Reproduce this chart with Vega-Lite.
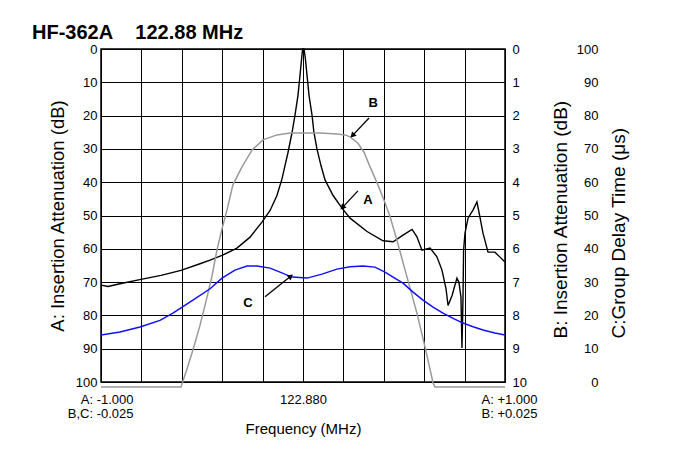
{
  "$schema": "https://vega.github.io/schema/vega-lite/v6.json",
  "width": 404,
  "height": 333,
  "autosize": "none",
  "padding": {"left": 101, "top": 49, "right": 177, "bottom": 68},
  "background": "white",
  "config": {
    "font": "Liberation Sans",
    "view": {"stroke": "black", "strokeWidth": 1.5},
    "axis": {"labelColor": "black", "titleColor": "black", "titleFontWeight": "normal", "labelFont": "Liberation Sans", "titleFont": "Liberation Sans"}
  },
  "title": {
    "text": "HF-362A\u00a0\u00a0\u00a0\u00a0122.88 MHz",
    "anchor": "start",
    "frame": "group",
    "dx": -69,
    "offset": -16,
    "baseline": "alphabetic",
    "fontSize": 20,
    "fontWeight": "bold",
    "font": "Liberation Sans",
    "color": "black"
  },
  "datasets": {
    "A": [
      {"f": -1.0, "db": 70.9}, {"f": -0.965, "db": 71.3}, {"f": -0.906, "db": 70.5}, {"f": -0.802, "db": 69.2},
      {"f": -0.703, "db": 68.0}, {"f": -0.604, "db": 66.5}, {"f": -0.51, "db": 64.5}, {"f": -0.46, "db": 63.4},
      {"f": -0.401, "db": 62.0}, {"f": -0.327, "db": 59.8}, {"f": -0.262, "db": 56.5}, {"f": -0.203, "db": 52.0},
      {"f": -0.163, "db": 48.5}, {"f": -0.129, "db": 44.0}, {"f": -0.104, "db": 39.0}, {"f": -0.074, "db": 31.0},
      {"f": -0.054, "db": 25.0}, {"f": -0.04, "db": 20.0}, {"f": -0.025, "db": 14.0}, {"f": -0.015, "db": 8.0},
      {"f": -0.007, "db": 3.0}, {"f": -0.002, "db": 0.0}, {"f": 0.005, "db": 0.0}, {"f": 0.012, "db": 3.0},
      {"f": 0.02, "db": 8.0}, {"f": 0.03, "db": 14.0}, {"f": 0.045, "db": 20.0}, {"f": 0.054, "db": 25.0},
      {"f": 0.069, "db": 30.0}, {"f": 0.089, "db": 35.0}, {"f": 0.109, "db": 39.3}, {"f": 0.149, "db": 44.0},
      {"f": 0.193, "db": 47.8}, {"f": 0.233, "db": 50.8}, {"f": 0.317, "db": 54.8}, {"f": 0.396, "db": 57.6},
      {"f": 0.446, "db": 57.9}, {"f": 0.495, "db": 55.9}, {"f": 0.54, "db": 54.2}, {"f": 0.564, "db": 56.4},
      {"f": 0.589, "db": 60.4}, {"f": 0.629, "db": 59.8}, {"f": 0.663, "db": 62.4}, {"f": 0.688, "db": 66.4},
      {"f": 0.708, "db": 72.0}, {"f": 0.718, "db": 77.0}, {"f": 0.738, "db": 74.0}, {"f": 0.762, "db": 68.8},
      {"f": 0.772, "db": 70.0}, {"f": 0.782, "db": 74.5}, {"f": 0.787, "db": 89.8}, {"f": 0.792, "db": 75.0},
      {"f": 0.795, "db": 60.4}, {"f": 0.802, "db": 55.3}, {"f": 0.817, "db": 50.8}, {"f": 0.842, "db": 48.3},
      {"f": 0.861, "db": 45.9}, {"f": 0.876, "db": 50.5}, {"f": 0.891, "db": 55.3}, {"f": 0.916, "db": 61.0},
      {"f": 0.95, "db": 61.0}, {"f": 0.975, "db": 62.5}, {"f": 1.0, "db": 64.0}
    ],
    "B": [
      {"f": -1.0, "b": 10.15}, {"f": -0.604, "b": 10.15}, {"f": -0.574, "b": 9.6}, {"f": -0.545, "b": 9.04},
      {"f": -0.51, "b": 8.3}, {"f": -0.475, "b": 7.45}, {"f": -0.45, "b": 6.8}, {"f": -0.426, "b": 6.04},
      {"f": -0.401, "b": 5.4}, {"f": -0.376, "b": 4.83}, {"f": -0.347, "b": 4.08}, {"f": -0.302, "b": 3.54},
      {"f": -0.252, "b": 3.03}, {"f": -0.198, "b": 2.73}, {"f": -0.129, "b": 2.58}, {"f": -0.064, "b": 2.52},
      {"f": 0.084, "b": 2.52}, {"f": 0.168, "b": 2.55}, {"f": 0.208, "b": 2.58}, {"f": 0.233, "b": 2.64},
      {"f": 0.272, "b": 2.83}, {"f": 0.302, "b": 3.1}, {"f": 0.332, "b": 3.54}, {"f": 0.356, "b": 3.87},
      {"f": 0.381, "b": 4.23}, {"f": 0.406, "b": 4.62}, {"f": 0.431, "b": 5.04}, {"f": 0.465, "b": 5.74},
      {"f": 0.515, "b": 6.85}, {"f": 0.564, "b": 7.93}, {"f": 0.604, "b": 8.95}, {"f": 0.644, "b": 10.03},
      {"f": 0.653, "b": 10.15}, {"f": 1.0, "b": 10.15}
    ],
    "C": [
      {"f": -1.0, "c": 14.1}, {"f": -0.906, "c": 15.0}, {"f": -0.807, "c": 16.5}, {"f": -0.708, "c": 18.5},
      {"f": -0.644, "c": 20.7}, {"f": -0.545, "c": 24.6}, {"f": -0.46, "c": 28.0}, {"f": -0.401, "c": 31.2},
      {"f": -0.337, "c": 33.6}, {"f": -0.277, "c": 34.8}, {"f": -0.228, "c": 34.8}, {"f": -0.163, "c": 34.2},
      {"f": -0.114, "c": 33.0}, {"f": -0.054, "c": 31.5}, {"f": 0.02, "c": 31.2}, {"f": 0.094, "c": 32.4},
      {"f": 0.168, "c": 33.9}, {"f": 0.233, "c": 34.6}, {"f": 0.297, "c": 34.8}, {"f": 0.356, "c": 34.5},
      {"f": 0.406, "c": 33.0}, {"f": 0.446, "c": 31.5}, {"f": 0.495, "c": 29.7}, {"f": 0.545, "c": 27.0},
      {"f": 0.594, "c": 24.6}, {"f": 0.644, "c": 22.5}, {"f": 0.693, "c": 20.7}, {"f": 0.743, "c": 19.1},
      {"f": 0.792, "c": 17.7}, {"f": 0.842, "c": 16.6}, {"f": 0.891, "c": 15.6}, {"f": 0.95, "c": 14.7},
      {"f": 1.0, "c": 14.1}
    ],
    "ann": [
      {"label": "B", "tx": 0.347, "ty": 16.2, "x1": 0.327, "y1": 20.7, "x2": 0.248, "y2": 25.8},
      {"label": "A", "tx": 0.322, "ty": 45.3, "x1": 0.272, "y1": 42.6, "x2": 0.198, "y2": 47.4},
      {"label": "C", "tx": -0.272, "ty": 76.2, "x1": -0.188, "y1": 74.4, "x2": -0.064, "y2": 68.4}
    ]
  },
  "layer": [
    {
      "data": {"name": "A"},
      "mark": {"type": "line", "color": "black", "strokeWidth": 1.4},
      "encoding": {
        "x": {
          "field": "f", "type": "quantitative",
          "scale": {"domain": [-1, 1], "nice": false, "zero": false},
          "axis": {
            "values": [-1, -0.9, -0.8, -0.7, -0.6, -0.5, -0.4, -0.3, -0.2, -0.1, 0, 0.1, 0.2, 0.3, 0.4, 0.5, 0.6, 0.7, 0.8, 0.9, 1],
            "grid": true, "gridColor": "black", "gridWidth": 1,
            "gridOpacity": {"condition": {"test": "round(datum.value * 10) % 2 == 0", "value": 1}, "value": 0},
            "domain": false, "ticks": true, "tickSize": -5, "tickColor": "black", "tickWidth": 1,
            "labelExpr": "datum.value == -1 ? ['A: -1.000', 'B,C: -0.025'] : datum.value == 0 ? '122.880' : datum.value == 1 ? ['A: +1.000', 'B: +0.025'] : ''",
            "labelFontSize": 13, "labelPadding": 16, "labelOverlap": false, "labelFlush": false, "labelBound": false, "labelLineHeight": 14,
            "labelAlign": {"condition": [{"test": "datum.value < -0.5", "value": "right"}, {"test": "datum.value > 0.5", "value": "left"}], "value": "center"},
            "labelOffset": {"condition": [{"test": "datum.value < -0.5", "value": 32}, {"test": "datum.value > 0.5", "value": -24}], "value": 0},
            "title": "Frequency (MHz)", "titleFontSize": 15, "titleY": 39, "titleBaseline": "top"
          }
        },
        "y": {
          "field": "db", "type": "quantitative",
          "scale": {"domain": [0, 100], "reverse": true, "nice": false, "zero": false},
          "axis": {
            "orient": "left", "values": [0, 10, 20, 30, 40, 50, 60, 70, 80, 90, 100],
            "grid": true, "gridColor": "black", "gridWidth": 1, "gridOpacity": 1,
            "ticks": false, "domain": false, "labelPadding": 4, "labelFontSize": 13,
            "title": "A: Insertion Attenuation (dB)", "titleFontSize": 18.5,
            "titleAngle": 270, "titleX": -44, "titleY": 166.5, "titleAlign": "center", "titleBaseline": "middle"
          }
        }
      }
    },
    {
      "data": {"name": "B"},
      "mark": {"type": "line", "color": "#9a9a9a", "strokeWidth": 1.5},
      "encoding": {
        "x": {"field": "f", "type": "quantitative", "scale": {"domain": [-1, 1], "nice": false, "zero": false}},
        "y": {
          "field": "b", "type": "quantitative",
          "scale": {"domain": [0, 10], "reverse": true, "nice": false, "zero": false},
          "axis": {
            "orient": "right", "values": [0, 1, 2, 3, 4, 5, 6, 7, 8, 9, 10],
            "grid": false, "ticks": false, "domain": false, "labelPadding": 7, "labelFontSize": 13, "labelAlign": "left",
            "title": "B: Insertion Attenuation (dB)", "titleFontSize": 19,
            "titleAngle": 270, "titleX": 55, "titleY": 289, "titleAlign": "left", "titleBaseline": "middle"
          }
        }
      }
    },
    {
      "data": {"name": "C"},
      "mark": {"type": "line", "color": "#1010ff", "strokeWidth": 1.5},
      "encoding": {
        "x": {"field": "f", "type": "quantitative", "scale": {"domain": [-1, 1], "nice": false, "zero": false}},
        "y": {
          "field": "c", "type": "quantitative",
          "scale": {"domain": [0, 100], "nice": false, "zero": false},
          "axis": {
            "orient": "right", "values": [0, 10, 20, 30, 40, 50, 60, 70, 80, 90, 100],
            "grid": false, "ticks": false, "domain": false, "labelPadding": 93, "labelFontSize": 13, "labelAlign": "right",
            "title": "C:Group Delay Time (μs)", "titleFontSize": 19,
            "titleAngle": 270, "titleX": 113, "titleY": 289, "titleAlign": "left", "titleBaseline": "middle"
          }
        }
      }
    },
    {
      "data": {"name": "ann"},
      "mark": {"type": "text", "fontWeight": "bold", "fontSize": 13, "color": "black"},
      "encoding": {
        "x": {"field": "tx", "type": "quantitative", "scale": {"domain": [-1, 1], "nice": false, "zero": false}},
        "y": {"field": "ty", "type": "quantitative", "scale": {"domain": [0, 100], "reverse": true, "nice": false, "zero": false}, "axis": null},
        "text": {"field": "label"}
      }
    },
    {
      "data": {"name": "ann"},
      "mark": {"type": "rule", "color": "black", "strokeWidth": 1.3},
      "encoding": {
        "x": {"field": "x1", "type": "quantitative", "scale": {"domain": [-1, 1], "nice": false, "zero": false}},
        "y": {"field": "y1", "type": "quantitative", "scale": {"domain": [0, 100], "reverse": true, "nice": false, "zero": false}, "axis": null},
        "x2": {"field": "x2"},
        "y2": {"field": "y2"}
      }
    },
    {
      "data": {"name": "ann"},
      "transform": [{"filter": "datum.label != 'C'"}],
      "mark": {"type": "point", "shape": "triangle", "filled": true, "color": "black", "size": 40, "angle": 224, "opacity": 1},
      "encoding": {
        "x": {"field": "x2", "type": "quantitative", "scale": {"domain": [-1, 1], "nice": false, "zero": false}},
        "y": {"field": "y2", "type": "quantitative", "scale": {"domain": [0, 100], "reverse": true, "nice": false, "zero": false}, "axis": null}
      }
    },
    {
      "data": {"name": "ann"},
      "transform": [{"filter": "datum.label == 'C'"}],
      "mark": {"type": "point", "shape": "triangle", "filled": true, "color": "black", "size": 40, "angle": 51, "opacity": 1},
      "encoding": {
        "x": {"field": "x2", "type": "quantitative", "scale": {"domain": [-1, 1], "nice": false, "zero": false}},
        "y": {"field": "y2", "type": "quantitative", "scale": {"domain": [0, 100], "reverse": true, "nice": false, "zero": false}, "axis": null}
      }
    }
  ],
  "resolve": {"scale": {"y": "independent"}, "axis": {"y": "independent"}}
}
